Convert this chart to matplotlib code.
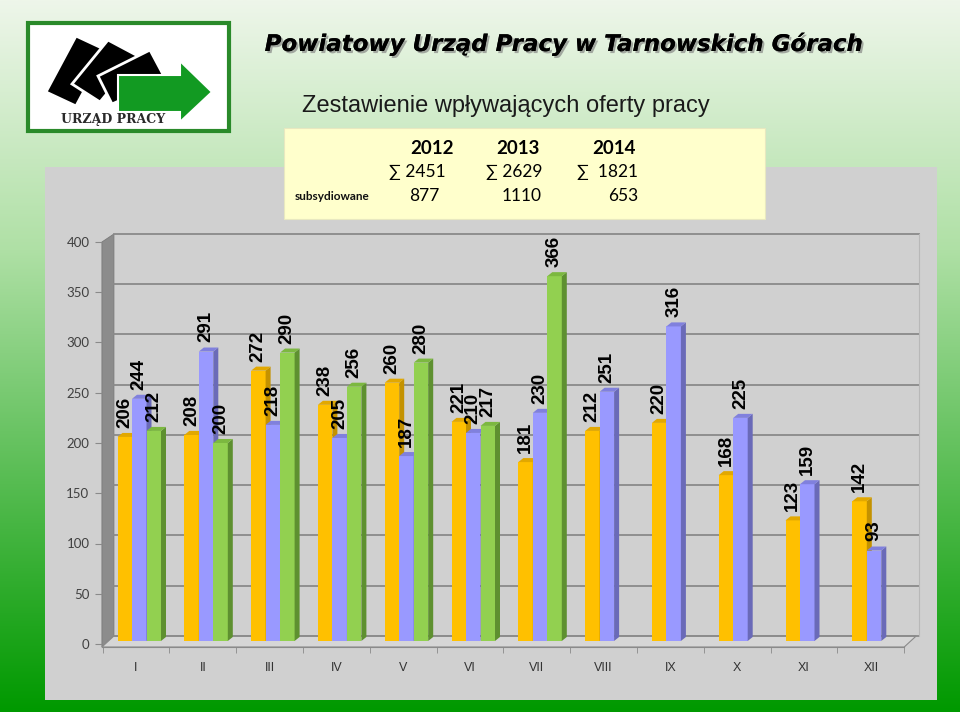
import numpy as np
import matplotlib.pyplot as plt
from matplotlib.patches import Polygon, Rectangle
from matplotlib import patheffects as pe

months = ['I', 'II', 'III', 'IV', 'V', 'VI', 'VII', 'VIII', 'IX', 'X', 'XI', 'XII']
y2012 = [206, 208, 272, 238, 260, 221, 181, 212, 220, 168, 123, 142]
y2013 = [244, 291, 218, 205, 187, 210, 230, 251, 316, 225, 159, 93]
y2014 = [212, 200, 290, 256, 280, 217, 366]

years = ['2012', '2013', '2014']
totals = ['∑ 2451', '∑ 2629', '∑  1821']
subsidised = ['877', '1110', '653']

yticks = list(range(0, 401, 50))

# bar colours: front, side, top
c_yellow = ('#ffc000', '#c49200', '#e2a800')
c_blue = ('#9999ff', '#6a6ab8', '#8080dd')
c_green = ('#92d050', '#5e9030', '#7cb840')

W, H = 960, 712
fig = plt.figure(figsize=(9.6, 7.12), dpi=100)

# ---------- background layer (pixel coordinates) ----------
bg = fig.add_axes([0, 0, 1, 1])
bg.set_xlim(0, W)
bg.set_ylim(H, 0)
bg.axis('off')

t = np.linspace(0, 1, 256)
stops = np.array([[238, 246, 234], [175, 224, 165], [0, 153, 0]]) / 255
r = np.interp(t, [0, 0.35, 1], stops[:, 0])
g = np.interp(t, [0, 0.35, 1], stops[:, 1])
b = np.interp(t, [0, 0.35, 1], stops[:, 2])
grad = np.stack([r, g, b], axis=1)[:, None, :]
bg.imshow(grad, extent=(0, W, H, 0), aspect='auto', zorder=0)

bg.add_patch(Rectangle((45, 167), 892, 533, fc='#d0d0d0', ec='none', zorder=1))
bg.add_patch(Rectangle((284, 128), 481, 91, fc='#ffffcc', ec='#e8e8c0', lw=0.8, zorder=2))

# logo
bg.add_patch(Rectangle((28, 23), 201, 108, fc='white', ec='#2a8a2a', lw=3, zorder=2))
cards = [
    [(46, 92), (76, 36), (106, 50), (76, 106)],
    [(72, 84), (108, 40), (138, 56), (100, 102)],
    [(98, 76), (150, 50), (166, 80), (112, 104)],
]
for c in cards:
    bg.add_patch(Polygon(c, closed=True, fc='black', ec='white', lw=2, zorder=3))
arrow = [(118, 75), (180, 75), (180, 61), (212, 92), (180, 122), (180, 112), (118, 112)]
bg.add_patch(Polygon(arrow, closed=True, fc='#129a22', ec='white', lw=1.5, zorder=4))
bg.text(113, 120, 'URZĄD PRACY', family='DejaVu Serif', weight='bold', fontsize=9,
        color='#2a2a2a', ha='center', va='center', zorder=5)

# titles
bg.text(563, 44, 'Powiatowy Urząd Pracy w Tarnowskich Górach', family='DejaVu Sans',
        weight='bold', style='italic', fontsize=16.5, color='black', ha='center', va='center',
        zorder=5, path_effects=[pe.withSimplePatchShadow(offset=(1.5, -1.5), shadow_rgbFace='#777777', alpha=0.6),
                                pe.Normal()])
bg.text(506, 106, 'Zestawienie wpływających oferty pracy', family='Liberation Sans',
        fontsize=17, color='#1a1a1a', ha='center', va='center', zorder=5)

# table
fam = ['Lato', 'DejaVu Sans']
for x, s in zip([432, 518, 614], years):
    bg.text(x, 149, s, family=fam, weight='bold', fontsize=13.5, ha='center', va='center', zorder=5)
for x, s in zip([446, 542, 638], totals):
    bg.text(x, 172, s, family=fam, fontsize=12.5, ha='right', va='center', color='black', zorder=5)
bg.text(295, 196, 'subsydiowane', family=fam, weight='bold', fontsize=8.5, ha='left', va='center',
        color='#111111', zorder=5)
for x, s in zip([440, 542, 638], subsidised):
    bg.text(x, 196, s, family=fam, fontsize=12.5, ha='right', va='center', color='black', zorder=5)

# ---------- chart layer ----------
c0, step = 136.0, 66.8           # pixel centre of first month and spacing
xl, xr = -0.51, 11.72
px = lambda x: c0 + step * x
ax = fig.add_axes([px(xl) / W, 68 / H, (px(xr) - px(xl)) / W, 402 / H])
ax.set_xlim(xl, xr)
ax.set_ylim(0, 400)
ax.patch.set_visible(False)

ddx, ddy = 12 / step, 8          # wall/floor depth
bdx, bdy = 5 / step, 4           # bar depth
base = 3

# left wall and floor
ax.add_patch(Polygon([(xl, -3), (xl, 400), (xl + ddx, 408), (xl + ddx, 8)], closed=True,
                     fc='#8c8c8c', ec='#7a7a7a', lw=0.6, clip_on=False, zorder=0.4))
ax.add_patch(Polygon([(xl, -3), (11.5, -3), (11.5 + ddx, 8), (xl + ddx, 8)], closed=True,
                     fc='#d6d6d6', ec='#8a8a8a', lw=0.8, clip_on=False, zorder=0.4))
for v in yticks:
    ax.plot([xl + ddx, xr], [v + ddy, v + ddy], color='#8a8a8a', lw=1.3, clip_on=False, zorder=0.5)
ax.plot([xr, xr], [ddy, 400 + ddy], color='#b8b8b8', lw=0.8, clip_on=False, zorder=0.5)


def bar3d(x, v, w, cols):
    front, side, top = cols
    ax.add_patch(Rectangle((x, base), w, v - base, fc=front, ec='none', zorder=2))
    ax.add_patch(Polygon([(x + w, base), (x + w + bdx, base + bdy), (x + w + bdx, v + bdy), (x + w, v)],
                         closed=True, fc=side, ec='none', zorder=2))
    ax.add_patch(Polygon([(x, v), (x + bdx, v + bdy), (x + w + bdx, v + bdy), (x + w, v)],
                         closed=True, fc=top, ec='none', zorder=2))
    ax.text(x + w / 2, v + 9, str(v), rotation=90, ha='center', va='bottom', family='Liberation Sans',
            weight='bold', fontsize=13.5, color='black', zorder=3, clip_on=False)


w = 14.5 / step
offs = [-18.5 / step, -4 / step, 10.5 / step]
for i in range(len(months)):
    bar3d(i + offs[0], y2012[i], w, c_yellow)
    bar3d(i + offs[1], y2013[i], w, c_blue)
    if i < len(y2014):
        bar3d(i + offs[2], y2014[i], w, c_green)

# axes
for s in ['top', 'right', 'left']:
    ax.spines[s].set_visible(False)
ax.spines['bottom'].set_position(('data', -3))
ax.spines['bottom'].set_bounds(xl, 11.5)
ax.spines['bottom'].set_color('#8a8a8a')
ax.set_xticks(range(len(months)))
ax.set_xticklabels(months)
ax.set_xticks(np.arange(-0.5, 12, 1), minor=True)
ax.tick_params(axis='x', which='major', length=0, pad=11, labelsize=9, labelcolor='#333333')
ax.tick_params(axis='x', which='minor', length=4, color='#8a8a8a')
for lab in ax.get_xticklabels():
    lab.set_family('Liberation Sans')
ax.set_yticks(yticks)
ax.tick_params(axis='y', length=5, color='#8a8a8a', labelsize=9.5, labelcolor='#404040', pad=4)
for lab in ax.get_yticklabels():
    lab.set_family('Lato')

fig.savefig('out.png', dpi=100)
